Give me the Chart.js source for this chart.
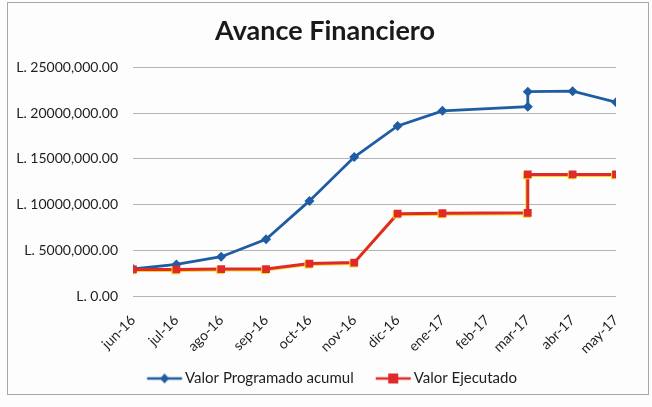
<!DOCTYPE html>
<html>
<head>
<meta charset="utf-8">
<script src="https://cdn.jsdelivr.net/npm/chart.js@4.4.1/dist/chart.umd.min.js"></script>
<style>
  html, body { margin: 0; padding: 0; background: #fdfdfd; }
  #wrap { position: absolute; left: 0; top: 0; width: 652px; height: 407px; }
</style>
</head>
<body>
<div id="wrap"><canvas id="grafico" width="652" height="407"></canvas></div>
<script>
// Meses del eje X (inicio de cada mes)
const meses = ['jun-16', 'jul-16', 'ago-16', 'sep-16', 'oct-16', 'nov-16', 'dic-16', 'ene-17', 'feb-17', 'mar-17', 'abr-17', 'may-17'];
const fechasMeses = ['2016-06-01', '2016-07-01', '2016-08-01', '2016-09-01', '2016-10-01', '2016-11-01', '2016-12-01', '2017-01-01', '2017-02-01', '2017-03-01', '2017-04-01', '2017-05-01'];

// Fechas de los puntos (marzo aparece dos veces)
const fechasPuntos = ['2016-06-01', '2016-07-01', '2016-08-01', '2016-09-01', '2016-10-01', '2016-11-01', '2016-12-01', '2017-01-01', '2017-03-01', '2017-03-01', '2017-04-01', '2017-05-01'];

// Valores
const valorProgramado = [2950000, 3450000, 4300000, 6200000, 10400000, 15200000, 18600000, 20250000, 20700000, 22350000, 22400000, 21200000];
const valorEjecutado = [2900000, 2900000, 2950000, 2950000, 3550000, 3650000, 9000000, 9050000, 9100000, 13300000, 13300000, 13300000];

// Eje Y
const valoresEjeY = [0, 5000000, 10000000, 15000000, 20000000, 25000000];
const etiquetasEjeY = ['L. 0.00', 'L. 5000,000.00', 'L. 10000,000.00', 'L. 15000,000.00', 'L. 20000,000.00', 'L. 25000,000.00'];

const colorAzul = '#1f5ca3';
const colorRojo = '#e0292a';
const colorAmarillo = '#f2dc1c';
const colorTexto = '#1e1e1e';

const inicio = Date.parse(fechasMeses[0]);
function dias(fecha) {
    return Math.round((Date.parse(fecha) - inicio) / 86400000);
}

function puntos(valores) {
    return valores.map((v, i) => ({ x: dias(fechasPuntos[i]), y: v }));
}

// Icono de leyenda: linea con marcador (con margen a la izquierda)
function iconoLeyenda(color, forma) {
    const c = document.createElement('canvas');
    c.width = 60; c.height = 14;
    const g = c.getContext('2d');
    const a = 20.75, b = a + 35, m = (a + b) / 2;
    g.strokeStyle = color;
    g.lineWidth = 2.5;
    g.beginPath(); g.moveTo(a, 7); g.lineTo(b, 7); g.stroke();
    g.fillStyle = color;
    if (forma === 'rombo') {
        g.beginPath(); g.moveTo(m, 2); g.lineTo(m + 4.5, 7); g.lineTo(m, 12); g.lineTo(m - 4.5, 7); g.closePath(); g.fill();
    } else {
        g.fillRect(m - 5, 2, 10, 10);
    }
    return c;
}

// Marco, ajuste de titulo/leyenda y sombra amarilla de la serie ejecutada
const extras = {
    id: 'extras',
    beforeDraw(chart) {
        const ctx = chart.ctx;
        ctx.save();
        ctx.fillStyle = '#fdfdfd';
        ctx.fillRect(0, 0, chart.width, chart.height);
        ctx.strokeStyle = '#a8a8a8';
        ctx.lineWidth = 1;
        ctx.strokeRect(7.5, 2.5, 641, 392);
        ctx.restore();
    },
    afterLayout(chart) {
        chart.titleBlock.left += 13;
        chart.titleBlock.right += 13;
        chart.legend.left += 14;
        chart.legend.right += 14;
    },
    beforeDatasetDraw(chart, args) {
        if (args.index !== 1) return;
        const ctx = chart.ctx;
        ctx.save();
        ctx.shadowColor = colorAmarillo;
        ctx.shadowOffsetX = -1;
        ctx.shadowOffsetY = 1;
        ctx.shadowBlur = 0;
    },
    afterDatasetDraw(chart, args) {
        if (args.index !== 1) return;
        chart.ctx.restore();
    }
};

new Chart(document.getElementById('grafico').getContext('2d'), {
    type: 'line',
    data: {
        datasets: [{
            label: 'Valor Programado acumul',
            data: puntos(valorProgramado),
            borderColor: colorAzul,
            backgroundColor: colorAzul,
            borderWidth: 2.8,
            pointStyle: 'rectRot',
            pointRadius: 5,
            pointBackgroundColor: colorAzul,
            pointBorderWidth: 0,
            tension: 0,
            order: 1
        }, {
            label: 'Valor Ejecutado',
            data: puntos(valorEjecutado),
            borderColor: colorRojo,
            backgroundColor: colorRojo,
            borderWidth: 3,
            pointStyle: 'rect',
            pointRadius: 5.5,
            pointBackgroundColor: colorRojo,
            pointBorderWidth: 0,
            tension: 0,
            order: 0
        }]
    },
    options: {
        responsive: false,
        animation: false,
        layout: { padding: { left: 8, right: 36, top: 15, bottom: 11 } },
        plugins: {
            title: {
                display: true,
                text: 'Avance Financiero',
                color: '#1a1a1a',
                font: { family: 'Lato', size: 27, weight: 'bold' },
                padding: { top: 0, bottom: 20 }
            },
            legend: {
                position: 'bottom',
                labels: {
                    color: colorTexto,
                    font: { family: 'Lato', size: 15 },
                    usePointStyle: true,
                    pointStyleWidth: 42.5,
                    boxHeight: 12,
                    padding: 10,
                    generateLabels(chart) {
                        return chart.data.datasets.map((ds, i) => ({
                            text: ds.label,
                            datasetIndex: i,
                            pointStyle: iconoLeyenda(ds.borderColor, i === 0 ? 'rombo' : 'cuadro'),
                            fillStyle: ds.borderColor,
                            strokeStyle: ds.borderColor,
                            lineWidth: 0,
                            fontColor: colorTexto
                        }));
                    }
                }
            },
            tooltip: { enabled: false }
        },
        scales: {
            x: {
                type: 'linear',
                min: dias(fechasMeses[0]),
                max: dias(fechasMeses[fechasMeses.length - 1]),
                afterBuildTicks(scale) {
                    scale.ticks = fechasMeses.map(f => ({ value: dias(f) }));
                },
                afterFit(scale) {
                    scale.height = 65;
                },
                ticks: {
                    autoSkip: false,
                    maxRotation: 45,
                    minRotation: 45,
                    color: colorTexto,
                    font: { family: 'Lato', size: 14 },
                    padding: 8,
                    callback: (v, i) => meses[i]
                },
                grid: { display: false },
                border: { display: false }
            },
            y: {
                min: 0,
                max: 25000000,
                afterBuildTicks(scale) {
                    scale.ticks = valoresEjeY.map(v => ({ value: v }));
                },
                afterFit(scale) {
                    scale.width = 125;
                },
                ticks: {
                    color: colorTexto,
                    font: { family: 'Lato', size: 14 },
                    padding: 15,
                    callback: (v, i) => etiquetasEjeY[i]
                },
                grid: { color: '#b4b4b4', drawTicks: false },
                border: { display: false }
            }
        }
    },
    plugins: [extras]
});
</script>
</body>
</html>
